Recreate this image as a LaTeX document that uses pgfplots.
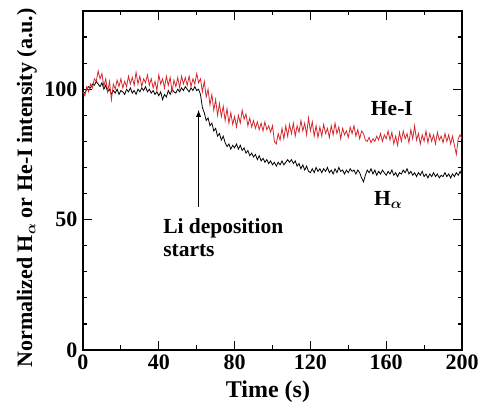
\documentclass[border=0pt]{standalone}
\usepackage{amsmath}
\usepackage{pgfplots}
\pgfplotsset{compat=1.18}
\usepackage{fontspec}
\setmainfont{Liberation Serif}
\definecolor{hered}{RGB}{212,40,45}
\pgfplotstableread{
x y
0 99
1 98.5
2 100
3 101
4 100.5
5 102
6 101.5
7 103
8 102
9 101
10 102.5
11 100
12 101.5
13 99
14 100
15 98
16 99.5
17 98.5
18 100
19 98
20 99.5
21 99
22 98
23 100
24 99
25 100.5
26 98.5
27 99.5
28 98
29 100
30 99
31 100.5
32 99.5
33 101
34 99
35 100
36 98.5
37 99.5
38 98
39 99
40 97.5
41 99
42 96
43 98
44 97
45 99.5
46 98
47 100
48 99
49 98.5
50 100
51 99
52 100.5
53 99.5
54 101
55 100
56 99
57 100.5
58 99.5
59 101
60 99.5
61 100
62 98
63 93
64 91
65 88
66 89
67 86
68 87
69 84
70 85
71 82
72 83
73 80.5
74 82
75 79.5
76 78
77 79
78 77
79 78.5
80 77.5
81 79
82 77
83 78.5
84 76.5
85 77.5
86 75.5
87 76.5
88 74.5
89 75.5
90 74
91 75
92 73
93 74.5
94 72.5
95 73.5
96 72
97 73
98 71.5
99 72.5
100 71
101 72
102 70.5
103 72
104 71
105 72.5
106 71
107 72
108 73
109 72
110 73
111 71.5
112 72.5
113 70.5
114 71.5
115 69.5
116 71
117 69
118 70.5
119 68.5
120 68
121 69.5
122 68
123 70
124 68.5
125 69.5
126 68
127 69.5
128 68.5
129 70
130 68
131 69
132 67.5
133 69.5
134 68
135 70
136 68.5
137 69
138 67.5
139 69
140 68
141 69.5
142 68.5
143 69
144 67.5
145 69
146 68
147 66
148 64.5
149 67
150 69
151 68
152 69.5
153 67.5
154 69
155 67
156 68.5
157 67.5
158 69
159 68
160 67
161 68.5
162 67.5
163 69
164 67
165 68
166 66.5
167 68
168 67.5
169 69
170 68
171 69.5
172 67.5
173 68.5
174 67
175 68
176 66.5
177 68
178 67
179 68.5
180 66.5
181 67.5
182 66
183 67.5
184 66.5
185 68
186 66.5
187 67.5
188 66
189 67
190 66.5
191 68
192 66.5
193 67.5
194 66
195 67.5
196 66.5
197 68
198 67
199 68.5
200 67
}\halpha
\pgfplotstableread{
x y
0 99
1 97.5
2 101
3 99
4 102
5 100.5
6 104
7 103
8 107
9 104
10 106
11 101
12 104
13 99
14 103
15 96
16 102
17 100
18 103.5
19 101
20 104
21 100.5
22 103
23 101
24 105
25 102
26 104.5
27 101.5
28 106.5
29 102
30 105
31 101
32 104
33 102.5
34 105.5
35 101.5
36 104
37 100.5
38 103
39 99.5
40 105.5
41 102
42 104
43 100.5
44 105
45 101.5
46 104.5
47 99
48 103.5
49 101
50 104.5
51 100.5
52 105
53 102
54 104.5
55 101.5
56 105
57 101
58 104
59 102
60 106
61 102.5
62 104
63 99
64 103
65 97
66 100
67 94
68 98
69 92
70 96
71 90
72 94.5
73 89.5
74 93.5
75 88
76 92.5
77 87
78 91
79 86.5
80 89.5
81 85.5
82 90
83 87
84 92
85 88.5
86 90.5
87 86
88 89
89 85.5
90 88
91 85
92 87.5
93 84.5
94 87
95 84
96 87.5
97 84.5
98 86
99 83.5
100 86
101 80
102 79
103 83
104 80.5
105 85
106 81
107 86
108 82
109 86.5
110 83
111 87
112 82
113 86
114 83.5
115 88
116 84
117 87
118 82.5
119 89
120 84
121 87.5
122 82
123 86
124 81.5
125 85.5
126 82
127 86.5
128 83
129 85
130 81.5
131 86
132 82.5
133 87
134 83
135 85.5
136 81
137 85
138 82.5
139 84
140 81.5
141 85.5
142 83
143 86
144 82
145 84.5
146 81
147 84
148 83
149 80.5
150 80
151 81.5
152 79.5
153 81
154 80
155 82
156 80.5
157 83
158 80
159 82.5
160 81
161 84
162 80.5
163 83.5
164 79
165 82
166 78.5
167 83.5
168 80
169 84
170 81
171 83
172 79.5
173 84.5
174 81
175 86
176 80.5
177 83
178 79
179 82.5
180 80
181 84
182 79.5
183 83
184 80
185 82.5
186 79
187 83.5
188 80.5
189 82
190 79.5
191 83
192 80
193 82.5
194 79
195 82
196 78.5
197 75
198 81
199 82.5
200 81
}\hei
\begin{document}
\begin{tikzpicture}
\begin{axis}[
  scale only axis,
  width=379bp, height=339bp,
  xmin=0, xmax=200, ymin=0, ymax=130,
  xtick={0,40,...,200}, xticklabels={0,40,80,120,160,200},
  minor xtick={20,60,...,180},
  ytick={0,50,100}, yticklabels={0,50,100},
  minor ytick={10,20,30,40,60,70,80,90,110,120},
  tick align=inside,
  major tick length=9bp, minor tick length=4.5bp,
  every tick/.style={black, line width=1.2bp},
  axis line style={line width=1.6bp},
  tick label style={font=\fontsize{22bp}{24bp}\selectfont\bfseries},
  xticklabel style={yshift=-1bp},
  yticklabel style={xshift=-2bp},
  xlabel={Time (s)},
  ylabel={Normalized H$_{\boldsymbol{\alpha}}$ or He-I intensity (a.u.)},
  every axis x label/.style={at={(axis description cs:0.488,-0.124)}, anchor=center,
    font=\fontsize{24bp}{26bp}\selectfont\bfseries},
  every axis y label/.style={at={(axis description cs:-0.148,0.478)}, anchor=center, rotate=90,
    font=\fontsize{22bp}{24bp}\selectfont\bfseries},
  clip=false,
]
\addplot[black, line width=0.8bp] table[x=x,y=y] {\halpha};
\addplot[hered, line width=0.8bp] table[x=x,y=y] {\hei};
\draw[-latex, line width=1.3bp] (axis cs:61,55) -- (axis cs:61,92);
\node[font=\fontsize{21.5bp}{23bp}\selectfont\bfseries, anchor=west] at (axis cs:40.5,46.8) {Li deposition};
\node[font=\fontsize{21.5bp}{23bp}\selectfont\bfseries, anchor=west] at (axis cs:40.5,38.2) {starts};
\node[font=\fontsize{21.5bp}{23bp}\selectfont\bfseries] at (axis cs:163,92.5) {He-I};
\node[font=\fontsize{21.5bp}{23bp}\selectfont\bfseries] at (axis cs:161,57.5) {H$_{\boldsymbol{\alpha}}$};
\end{axis}
\path ([xshift=-83bp,yshift=-55bp]current axis.south west) rectangle ++(485bp,405bp);
\end{tikzpicture}
\end{document}
